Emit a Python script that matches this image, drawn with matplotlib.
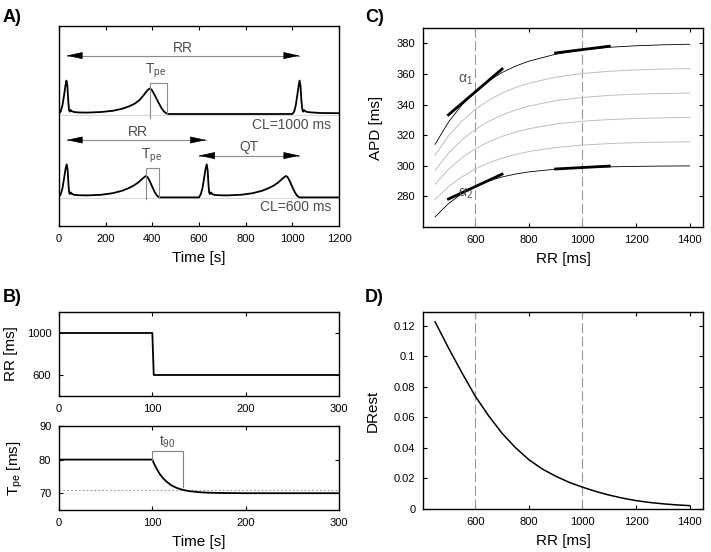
import matplotlib as mpl
mpl.use('Agg')
import matplotlib.pyplot as plt

plt.rcParams['font.family'] = ['Liberation Sans', 'DejaVu Sans']
plt.rcParams['mathtext.fontset'] = 'custom'
plt.rcParams['mathtext.rm'] = 'Liberation Sans'
plt.rcParams['mathtext.it'] = 'Liberation Sans:italic'
plt.rcParams['mathtext.bf'] = 'Liberation Sans:bold'

# A) two ECG-like traces, time in ms, arbitrary vertical units
ecg1_t = [0, 8, 15, 22, 28, 32, 36, 40, 43, 46, 50, 55, 65, 80, 120, 180, 230, 270, 300, 325,
          345, 360, 372, 382, 390, 398, 410, 425, 440, 452, 462, 470,
          1000, 1008, 1015, 1022, 1027, 1031, 1035, 1039, 1043, 1046, 1050, 1055, 1065, 1080, 1120, 1200]
ecg1_v = [5.62, 5.75, 6.05, 6.55, 7.05, 7.27, 7.0, 6.2, 5.8, 5.72, 5.8, 5.74, 5.7, 5.68, 5.67, 5.7, 5.76, 5.86, 5.98, 6.12,
          6.3, 6.5, 6.68, 6.82, 6.88, 6.8, 6.55, 6.2, 5.88, 5.7, 5.62, 5.6,
          5.6, 5.72, 6.05, 6.6, 7.0, 7.27, 7.0, 6.25, 5.8, 5.72, 5.8, 5.74, 5.7, 5.68, 5.65, 5.64]

ecg2_t = [0, 8, 15, 22, 28, 33, 37, 41, 44, 47, 51, 56, 65, 80, 120, 180, 230, 270, 300, 320,
          340, 355, 365, 373, 380, 390, 400, 411, 420, 430,
          600, 608, 615, 622, 628, 633, 637, 641, 644, 647, 651, 656, 665, 680, 720, 780, 830, 870, 900, 920,
          940, 955, 965, 973, 980, 990, 1000, 1011, 1020, 1030, 1200]
ecg2_v = [1.45, 1.6, 1.9, 2.4, 2.85, 3.08, 2.8, 2.0, 1.65, 1.6, 1.68, 1.6, 1.56, 1.54, 1.53, 1.56, 1.64, 1.76, 1.9, 2.02,
          2.18, 2.34, 2.44, 2.5, 2.44, 2.22, 1.95, 1.68, 1.52, 1.43,
          1.43, 1.6, 1.9, 2.4, 2.85, 3.08, 2.8, 2.0, 1.65, 1.6, 1.68, 1.6, 1.56, 1.54, 1.53, 1.56, 1.64, 1.76, 1.9, 2.02,
          2.18, 2.34, 2.44, 2.5, 2.44, 2.22, 1.95, 1.68, 1.52, 1.43, 1.43]

# B) RR step and T_pe response
b_time_rr = [0, 100, 101.5, 300]
b_rr = [1000, 1000, 600, 600]
b_time_tpe = [0, 100, 102, 105, 108, 111, 115, 120, 125, 130, 135, 140, 150, 160, 175, 200, 300]
b_tpe = [80, 80, 78.7, 77.1, 75.7, 74.6, 73.5, 72.4, 71.7, 71.2, 70.85, 70.6, 70.3, 70.15, 70.05, 70.0, 70.0]

# C) APD restitution curves
rr_c = [450, 500, 550, 600, 650, 700, 750, 800, 900, 1000, 1100, 1200, 1300, 1400]
apd_1 = [314, 328.5, 339.7, 348.6, 355.5, 360.9, 365.1, 368.3, 372.9, 375.7, 377.4, 378.4, 379.0, 379.4]
apd_2 = [307, 319.5, 329.2, 336.9, 342.8, 347.5, 351.1, 353.9, 357.9, 360.3, 361.7, 362.6, 363.2, 363.5]
apd_3 = [297, 308.2, 316.9, 323.7, 329.0, 333.2, 336.4, 339.0, 342.5, 344.6, 346.0, 346.8, 347.2, 347.5]
apd_4 = [288, 297.6, 305.2, 311.1, 315.6, 319.2, 322.0, 324.2, 327.3, 329.1, 330.2, 330.9, 331.3, 331.6]
apd_5 = [278, 286.3, 292.8, 297.9, 301.9, 305.0, 307.4, 309.3, 311.9, 313.5, 314.5, 315.1, 315.4, 315.7]
apd_6 = [266.6, 275.3, 281.8, 286.5, 290.1, 292.7, 294.6, 296.0, 297.8, 298.8, 299.3, 299.6, 299.8, 299.9]
tan_x_steep = [500, 700]
tan_x_flat = [900, 1100]
tan_top_steep = [333.3, 363.2]
tan_top_flat = [373.7, 378.1]
tan_bot_steep = [278.3, 294.5]
tan_bot_flat = [297.9, 299.8]

# D) DRest vs RR
rr_d = [450, 500, 550, 600, 650, 700, 750, 800, 850, 900, 950, 1000, 1050, 1100, 1150, 1200, 1250, 1300, 1350, 1400]
drest = [0.1226, 0.1055, 0.0893, 0.0739, 0.0610, 0.0496, 0.0402, 0.0323, 0.0262, 0.0215, 0.0175, 0.0143,
         0.0115, 0.0091, 0.0071, 0.0055, 0.0043, 0.0034, 0.0027, 0.0022]

tick_fs = 8
lab_fs = 11
ann_fs = 10


def style(ax):
    ax.tick_params(direction='in', which='both', top=True, right=True, length=3, width=0.8,
                   labelsize=tick_fs, pad=5.5)
    for s in ax.spines.values():
        s.set_linewidth(1.0)


def double_arrow(ax, x0, x1, y):
    ax.plot([x0, x1], [y, y], color='0.55', lw=0.8)
    for tip, back in [(x0, x1), (x1, x0)]:
        ax.annotate('', xy=(tip, y), xytext=(tip + (back - tip) * 0.01, y),
                    arrowprops=dict(arrowstyle='-|>,head_length=1.0,head_width=0.22',
                                    color='black', lw=0.5, shrinkA=0, shrinkB=0))


fig = plt.figure(figsize=(7.11, 5.52), dpi=100)
W, H = 711.0, 552.0


def add_ax(l, t, r, b):
    return fig.add_axes([l / W, 1 - b / H, (r - l) / W, (b - t) / H])


# ---- A
axA = add_ax(59, 26, 339, 226)
axA.plot([0, 1200], [5.55, 5.55], color='0.85', lw=0.8)
axA.plot([0, 1200], [1.40, 1.40], color='0.85', lw=0.8)
axA.plot(ecg1_t, ecg1_v, color='black', lw=1.3)
axA.plot(ecg2_t, ecg2_v, color='black', lw=1.3)
axA.set_xlim(0, 1200)
axA.set_ylim(0, 10)
axA.set_xticks(range(0, 1201, 200))
axA.set_yticks([])
axA.set_xlabel('Time [s]', fontsize=lab_fs, labelpad=5)
style(axA)

double_arrow(axA, 33, 1030, 8.52)
axA.text(532, 8.88, 'RR', fontsize=ann_fs, color='0.3', ha='center', va='center')
double_arrow(axA, 33, 630, 4.3)
axA.text(337, 4.72, 'RR', fontsize=ann_fs, color='0.3', ha='center', va='center')
double_arrow(axA, 600, 1030, 3.52)
axA.text(816, 3.97, 'QT', fontsize=ann_fs, color='0.3', ha='center', va='center')

axA.plot([390, 390, 464, 464], [5.38, 7.15, 7.15, 5.6], color='0.55', lw=0.8)
axA.text(412, 7.3, r'T$_{\mathrm{pe}}$', fontsize=ann_fs, color='0.3', ha='center', va='bottom')
axA.plot([373, 373, 430, 430], [1.33, 2.88, 2.88, 1.43], color='0.55', lw=0.8)
axA.text(395, 3.03, r'T$_{\mathrm{pe}}$', fontsize=ann_fs, color='0.3', ha='center', va='bottom')

axA.text(1166, 5.05, 'CL=1000 ms', fontsize=ann_fs, color='0.3', ha='right', va='center')
axA.text(1166, 0.97, 'CL=600 ms', fontsize=ann_fs, color='0.3', ha='right', va='center')

# ---- B top
axB1 = add_ax(59, 312, 339, 396)
axB1.plot(b_time_rr, b_rr, color='black', lw=1.3)
axB1.set_xlim(0, 300)
axB1.set_ylim(400, 1200)
axB1.set_xticks([0, 100, 200, 300])
axB1.set_yticks([600, 1000])
axB1.set_ylabel('RR [ms]', fontsize=lab_fs, labelpad=6)
style(axB1)

# ---- B bottom
axB2 = add_ax(59, 426, 339, 510)
axB2.plot([0, 300], [71, 71], color='0.6', lw=0.8, ls=(0, (1.5, 2)))
axB2.plot(b_time_tpe, b_tpe, color='black', lw=1.3)
axB2.plot([100, 100, 133, 133], [80, 82.5, 82.5, 71.8], color='0.5', lw=0.8)
axB2.text(116, 83, r't$_{90}$', fontsize=ann_fs, color='0.3', ha='center', va='bottom')
axB2.set_xlim(0, 300)
axB2.set_ylim(65, 90)
axB2.set_xticks([0, 100, 200, 300])
axB2.set_yticks([70, 80, 90])
axB2.set_xlabel('Time [s]', fontsize=lab_fs, labelpad=5)
axB2.set_ylabel(r'T$_{\mathrm{pe}}$ [ms]', fontsize=lab_fs, labelpad=10)
style(axB2)

# ---- C
axC = add_ax(423, 28, 703, 227)
for xv in [600, 1000]:
    axC.axvline(xv, color='0.6', lw=0.8, dashes=(9, 3.2))
for apd in [apd_2, apd_3, apd_4, apd_5]:
    axC.plot(rr_c, apd, color='0.75', lw=0.7)
axC.plot(rr_c, apd_1, color='black', lw=0.6)
axC.plot(rr_c, apd_6, color='black', lw=0.6)
axC.plot(tan_x_steep, tan_top_steep, color='black', lw=2)
axC.plot(tan_x_flat, tan_top_flat, color='black', lw=2)
axC.plot(tan_x_steep, tan_bot_steep, color='black', lw=2)
axC.plot(tan_x_flat, tan_bot_flat, color='black', lw=2)
axC.text(562, 356, u'\u03b1$_1$', fontsize=ann_fs, color='0.3', ha='center', va='center')
axC.text(562, 282, u'\u03b1$_2$', fontsize=ann_fs, color='0.3', ha='center', va='center')
axC.set_xlim(405, 1450)
axC.set_ylim(260, 390)
axC.set_xticks([600, 800, 1000, 1200, 1400])
axC.set_yticks(range(280, 381, 20))
axC.set_xlabel('RR [ms]', fontsize=lab_fs, labelpad=5)
axC.set_ylabel('APD [ms]', fontsize=lab_fs, labelpad=10)
style(axC)

# ---- D
axD = add_ax(423, 312, 703, 509)
for xv in [600, 1000]:
    axD.axvline(xv, color='0.6', lw=0.8, dashes=(9, 3.2))
axD.plot(rr_d, drest, color='black', lw=1.1)
axD.set_xlim(405, 1450)
axD.set_ylim(0, 0.129)
axD.set_xticks([600, 800, 1000, 1200, 1400])
axD.set_yticks([0, 0.02, 0.04, 0.06, 0.08, 0.1, 0.12])
axD.set_yticklabels(['0', '0.02', '0.04', '0.06', '0.08', '0.1', '0.12'])
axD.set_xlabel('RR [ms]', fontsize=lab_fs, labelpad=5)
axD.set_ylabel('DRest', fontsize=lab_fs, labelpad=10)
style(axD)

for lbl, x, y in [('A)', 3, 22), ('B)', 3, 302), ('C)', 365, 22), ('D)', 365, 302)]:
    fig.text(x / W, 1 - y / H, lbl, fontsize=13, fontweight='bold', ha='left', va='baseline')

fig.savefig('out.png', dpi=100)
